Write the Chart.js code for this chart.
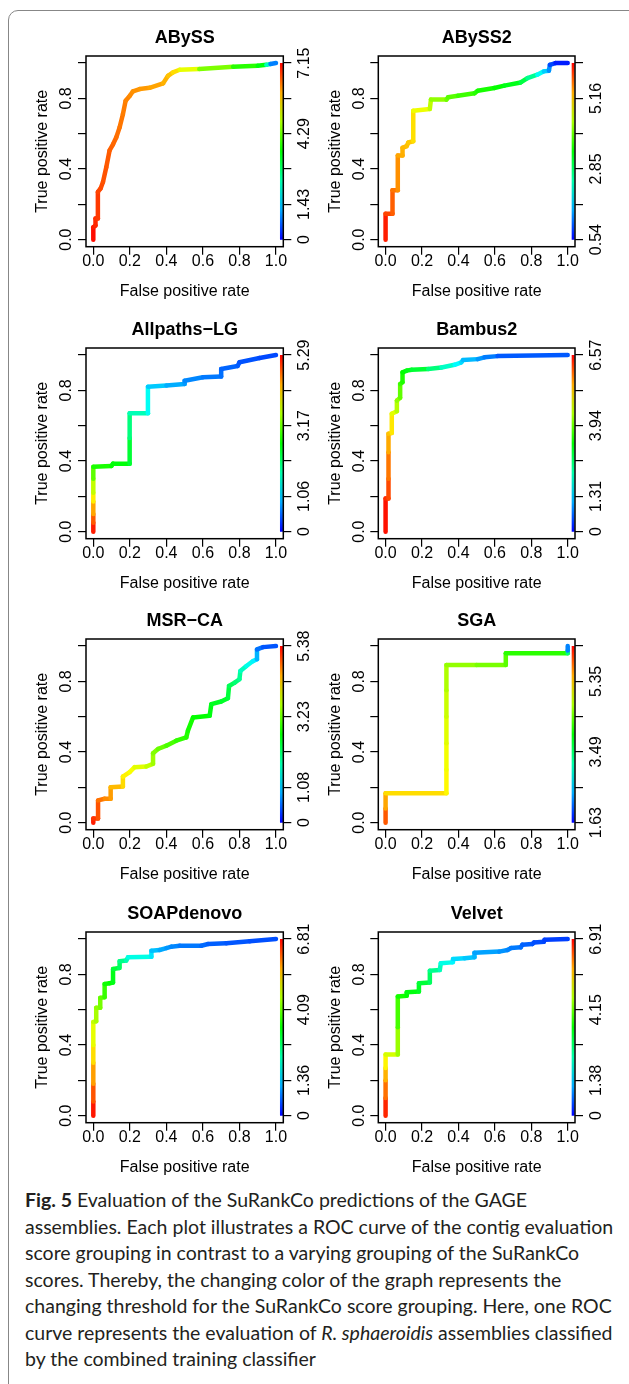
<!DOCTYPE html>
<html>
<head>
<meta charset="utf-8">
<script src="https://cdn.jsdelivr.net/npm/chart.js@4.4.1/dist/chart.umd.min.js"></script>
<style>
  html, body { margin: 0; padding: 0; background: #fff; }
  body { position: relative; width: 629px; height: 1384px; overflow: hidden; }
  .frame { position: absolute; left: 8px; top: 10px; width: 700px; height: 1500px;
           border: 1.5px solid #878787; border-radius: 10px; }
  .panel { position: absolute; width: 314px; height: 292px; }
  .caption { position: absolute; left: 25px; top: 1187px; font-family: Lato, 'Open Sans', sans-serif;
             font-size: 19.5px; line-height: 26.5px; color: #231f20; white-space: nowrap; }
</style>
</head>
<body>
<div class="frame"></div>
<canvas id="roc0" class="panel" width="314" height="292" style="left:0;top:10px"></canvas>
<canvas id="roc1" class="panel" width="314" height="292" style="left:315px;top:10px"></canvas>
<canvas id="roc2" class="panel" width="314" height="292" style="left:0;top:302px"></canvas>
<canvas id="roc3" class="panel" width="314" height="292" style="left:315px;top:302px"></canvas>
<canvas id="roc4" class="panel" width="314" height="292" style="left:0;top:593px"></canvas>
<canvas id="roc5" class="panel" width="314" height="292" style="left:315px;top:593px"></canvas>
<canvas id="roc6" class="panel" width="314" height="292" style="left:0;top:886px"></canvas>
<canvas id="roc7" class="panel" width="314" height="292" style="left:315px;top:886px"></canvas>
<div class="caption">
  <div><b>Fig. 5</b> Evaluation of the SuRankCo predictions of the GAGE</div>
  <div>assemblies. Each plot illustrates a ROC curve of the contig evaluation</div>
  <div>score grouping in contrast to a varying grouping of the SuRankCo</div>
  <div>scores. Thereby, the changing color of the graph represents the</div>
  <div>changing threshold for the SuRankCo score grouping. Here, one ROC</div>
  <div>curve represents the evaluation of <i>R. sphaeroidis</i> assemblies classified</div>
  <div>by the combined training classifier</div>
</div>
<script>
/* GAGE ROC panels: curve colour follows the SuRankCo score threshold,
 * bar at the right edge is the rainbow key for that score range. */

const panelNames = ['ABySS', 'ABySS2', 'Allpaths\u2212LG', 'Bambus2', 'MSR\u2212CA', 'SGA', 'SOAPdenovo', 'Velvet'];

// ABySS
const abyssFpr = [0, 0, 0.012, 0.012, 0.025, 0.025, 0.04, 0.053, 0.071, 0.089, 0.108, 0.126, 0.144, 0.162, 0.177, 0.2, 0.217, 0.254, 0.308, 0.382, 0.409, 0.436, 0.473, 0.58, 0.765, 0.9, 0.947, 0.97, 1];
const abyssTpr = [0, 0.07, 0.08, 0.12, 0.12, 0.27, 0.29, 0.326, 0.41, 0.505, 0.54, 0.58, 0.636, 0.71, 0.787, 0.815, 0.84, 0.853, 0.86, 0.885, 0.928, 0.947, 0.962, 0.966, 0.979, 0.985, 0.99, 0.995, 1];
const abyssScore = [7.15, 7.0, 6.9, 6.85, 6.8, 6.7, 6.65, 6.6, 6.55, 6.5, 6.45, 6.4, 6.35, 6.3, 6.25, 6.2, 6.15, 6.1, 6.05, 5.95, 5.85, 5.7, 5.5, 4.9, 4.0, 3.7, 3.3, 1.2, 0.6];

// ABySS2
const abyss2Fpr = [0, 0, 0.038, 0.038, 0.067, 0.067, 0.093, 0.093, 0.116, 0.125, 0.152, 0.152, 0.243, 0.249, 0.334, 0.343, 0.397, 0.488, 0.506, 0.597, 0.652, 0.742, 0.779, 0.833, 0.869, 0.897, 0.902, 0.933, 1];
const abyss2Tpr = [0, 0.147, 0.147, 0.279, 0.279, 0.476, 0.476, 0.52, 0.53, 0.55, 0.557, 0.73, 0.74, 0.793, 0.793, 0.806, 0.815, 0.829, 0.843, 0.859, 0.872, 0.89, 0.915, 0.934, 0.953, 0.957, 0.99, 1, 1];
const abyss2Score = [6.3, 6.0, 5.85, 5.7, 5.6, 5.4, 5.35, 5.3, 5.25, 5.2, 5.15, 4.95, 4.6, 4.4, 4.1, 4.0, 3.85, 3.7, 3.6, 3.5, 3.4, 3.2, 2.9, 2.3, 1.8, 1.6, 1.1, 0.8, 0.6];

// Allpaths-LG
const allpathsFpr = [0, 0, 0, 0, 0, 0, 0, 0.099, 0.108, 0.199, 0.199, 0.199, 0.299, 0.299, 0.4, 0.5, 0.5, 0.6, 0.7, 0.7, 0.79, 0.8, 0.91, 1];
const allpathsTpr = [0, 0.05, 0.1, 0.17, 0.22, 0.3, 0.367, 0.372, 0.385, 0.385, 0.53, 0.671, 0.671, 0.821, 0.827, 0.836, 0.855, 0.874, 0.878, 0.921, 0.938, 0.959, 0.983, 1];
const allpathsScore = [5.29, 5.0, 4.65, 4.2, 3.9, 3.4, 2.85, 2.7, 2.65, 2.55, 2.2, 1.8, 1.6, 1.15, 0.95, 0.85, 0.75, 0.65, 0.6, 0.55, 0.5, 0.45, 0.4, 0.35];

// Bambus2
const bambusFpr = [0, 0, 0.016, 0.016, 0.016, 0.016, 0.034, 0.034, 0.062, 0.062, 0.08, 0.08, 0.093, 0.093, 0.116, 0.143, 0.234, 0.307, 0.379, 0.416, 0.425, 0.506, 0.543, 0.615, 1];
const bambusTpr = [0, 0.188, 0.188, 0.3, 0.45, 0.555, 0.558, 0.667, 0.682, 0.742, 0.758, 0.836, 0.846, 0.902, 0.912, 0.917, 0.921, 0.93, 0.945, 0.959, 0.972, 0.977, 0.987, 0.994, 1];
const bambusScore = [6.57, 6.35, 6.2, 6.0, 5.6, 5.35, 5.25, 4.9, 4.6, 4.3, 4.1, 3.7, 3.6, 3.35, 3.2, 3.1, 2.8, 2.2, 1.8, 1.45, 1.35, 1.05, 0.9, 0.7, 0.45];

// MSR-CA
const msrFpr = [0, 0, 0.026, 0.026, 0.062, 0.095, 0.095, 0.162, 0.162, 0.199, 0.226, 0.29, 0.327, 0.327, 0.354, 0.4, 0.454, 0.509, 0.518, 0.546, 0.637, 0.646, 0.7, 0.737, 0.743, 0.774, 0.8, 0.805, 0.838, 0.874, 0.896, 0.896, 0.929, 1];
const msrTpr = [0, 0.023, 0.023, 0.126, 0.135, 0.135, 0.2, 0.205, 0.261, 0.286, 0.314, 0.318, 0.333, 0.393, 0.417, 0.436, 0.464, 0.483, 0.521, 0.596, 0.605, 0.671, 0.686, 0.705, 0.774, 0.793, 0.812, 0.859, 0.887, 0.915, 0.925, 0.981, 0.994, 1];
const msrScore = [5.3, 5.15, 5.05, 4.85, 4.7, 4.6, 4.5, 4.3, 4.15, 4.05, 3.95, 3.8, 3.6, 3.45, 3.3, 3.15, 3.0, 2.9, 2.85, 2.75, 2.65, 2.55, 2.5, 2.45, 2.3, 2.15, 2.0, 1.8, 1.55, 1.35, 1.2, 0.7, 0.5, 0.4];

// SGA
const sgaFpr = [0, 0, 0, 0.334, 0.334, 0.334, 0.334, 0.334, 0.334, 0.5, 0.66, 0.66, 1, 1, 1];
const sgaTpr = [0, 0.08, 0.167, 0.167, 0.3, 0.45, 0.6, 0.75, 0.893, 0.893, 0.893, 0.959, 0.959, 0.975, 1];
const sgaScore = [6.95, 6.5, 6.1, 5.9, 5.8, 5.7, 5.6, 5.45, 5.3, 5.15, 5.0, 4.8, 4.5, 3.0, 1.7];

// SOAPdenovo
const soapFpr = [0, 0, 0, 0, 0, 0, 0.016, 0.016, 0.038, 0.038, 0.062, 0.062, 0.089, 0.108, 0.108, 0.141, 0.144, 0.18, 0.19, 0.318, 0.318, 0.363, 0.4, 0.427, 0.473, 0.591, 0.628, 0.728, 0.856, 1];
const soapTpr = [0, 0.08, 0.18, 0.3, 0.4, 0.53, 0.534, 0.611, 0.611, 0.667, 0.671, 0.746, 0.75, 0.754, 0.831, 0.836, 0.874, 0.878, 0.897, 0.9, 0.934, 0.938, 0.949, 0.957, 0.962, 0.962, 0.972, 0.976, 0.987, 1];
const soapScore = [6.81, 6.5, 6.0, 5.5, 5.15, 4.75, 4.65, 4.4, 4.3, 4.1, 4.0, 3.55, 3.45, 3.4, 3.1, 2.95, 2.6, 2.4, 2.05, 1.7, 1.35, 1.2, 1.05, 0.95, 0.85, 0.75, 0.65, 0.6, 0.55, 0.5];

// Velvet
const velvetFpr = [0, 0, 0, 0, 0, 0.067, 0.067, 0.067, 0.116, 0.116, 0.183, 0.183, 0.243, 0.243, 0.298, 0.303, 0.365, 0.37, 0.434, 0.488, 0.488, 0.624, 0.67, 0.688, 0.742, 0.751, 0.806, 0.815, 0.869, 0.873, 1];
const velvetTpr = [0, 0.1, 0.2, 0.27, 0.346, 0.346, 0.5, 0.675, 0.679, 0.699, 0.703, 0.75, 0.754, 0.821, 0.825, 0.863, 0.868, 0.887, 0.891, 0.897, 0.923, 0.929, 0.938, 0.949, 0.953, 0.968, 0.972, 0.981, 0.985, 0.996, 1];
const velvetScore = [6.91, 6.4, 5.9, 5.5, 5.0, 4.8, 4.2, 3.65, 3.5, 3.4, 3.3, 3.15, 3.0, 2.6, 2.35, 2.0, 1.8, 1.55, 1.4, 1.3, 1.15, 1.05, 0.95, 0.85, 0.8, 0.7, 0.6, 0.55, 0.5, 0.45, 0.4];

const curves = [
  [abyssFpr, abyssTpr, abyssScore],
  [abyss2Fpr, abyss2Tpr, abyss2Score],
  [allpathsFpr, allpathsTpr, allpathsScore],
  [bambusFpr, bambusTpr, bambusScore],
  [msrFpr, msrTpr, msrScore],
  [sgaFpr, sgaTpr, sgaScore],
  [soapFpr, soapTpr, soapScore],
  [velvetFpr, velvetTpr, velvetScore],
];

// score range covered by the colour key of each panel
const scoreMin = [0, 0.54, 0, 0, 0, 1.63, 0, 0];
const scoreMax = [7.15, 6.315, 5.29, 6.57, 5.38, 7.21, 6.81, 6.91];

const rateTicks = [0, 0.2, 0.4, 0.6, 0.8, 1];
const xTickLabels = ['0.0', '0.2', '0.4', '0.6', '0.8', '1.0'];
const yTickLabels = ['0.0', '', '0.4', '', '0.8', ''];
const scoreTickLabels = [
  ['0', '1.43', '', '4.29', '', '7.15'],
  ['0.54', '', '2.85', '', '5.16', ''],
  ['0', '1.06', '', '3.17', '', '5.29'],
  ['0', '1.31', '', '3.94', '', '6.57'],
  ['0', '1.08', '', '3.23', '', '5.38'],
  ['1.63', '', '3.49', '', '5.35', ''],
  ['0', '1.36', '', '4.09', '', '6.81'],
  ['0', '1.38', '', '4.15', '', '6.91'],
];
const keyX = 1.03;

Chart.defaults.font.family = "'Liberation Sans', Arial, Helvetica, sans-serif";
Chart.defaults.color = '#000';

// rainbow as in R: high score red, low score blue
const rainbow = (t) => 'hsl(' + ((1 - Math.min(1, Math.max(0, t))) * 240).toFixed(1) + ', 100%, 50%)';

const plotBox = {
  id: 'plotBox',
  afterDatasetsDraw(chart) {
    const { ctx, chartArea: a } = chart;
    ctx.save();
    ctx.strokeStyle = '#000';
    ctx.lineWidth = 1.5;
    ctx.strokeRect(a.left, a.top, a.width, a.height);
    ctx.restore();
  },
};

const fixedTicks = (scale) => { scale.ticks = rateTicks.map((v) => ({ value: v })); };
const tickGrid = { drawOnChartArea: false, color: '#000', lineWidth: 1.2, tickLength: 8 };

function makePanel(i) {
  const [fpr, tpr, score] = curves[i];
  const lo = scoreMin[i], hi = scoreMax[i];
  const toT = (v) => (v - lo) / (hi - lo);
  const rightCol = i % 2 === 1;

  return new Chart(document.getElementById('roc' + i), {
    type: 'line',
    data: {
      datasets: [
        {
          data: fpr.map((x, k) => ({ x, y: tpr[k] })),
          borderWidth: 4.5,
          borderCapStyle: 'round',
          borderJoinStyle: 'round',
          borderColor: rainbow(toT(score[0])),
          pointRadius: 0,
          tension: 0,
          segment: {
            borderColor: (c) => rainbow(toT((score[c.p0DataIndex] + score[c.p1DataIndex]) / 2)),
          },
        },
        {
          data: [{ x: keyX, y: 0 }, { x: keyX, y: 1 }],
          borderWidth: 3,
          pointRadius: 0,
          borderColor: (c) => {
            const ys = c.chart.scales.y;
            if (!ys || ys.top === undefined) return '#00f';
            const g = c.chart.ctx.createLinearGradient(0, ys.getPixelForValue(0), 0, ys.getPixelForValue(1));
            for (let k = 0; k <= 6; k++) g.addColorStop(k / 6, rainbow(k / 6));
            return g;
          },
        },
      ],
    },
    options: {
      responsive: false,
      animation: false,
      layout: { padding: { left: rightCol ? 10.7 : 33.4, right: rightCol ? 23.3 : 0, top: 0, bottom: 0.7 } },
      scales: {
        x: {
          type: 'linear', min: -0.04, max: 1.04,
          afterBuildTicks: fixedTicks,
          afterFit: (s) => { s.height = 54.6; },
          grid: tickGrid,
          border: { display: false },
          ticks: { font: { size: 16 }, padding: -3, autoSkip: false, maxRotation: 0, callback: (v, k) => xTickLabels[k] },
          title: { display: true, text: 'False positive rate', font: { size: 16 }, padding: 0 },
        },
        y: {
          type: 'linear', min: -0.04, max: 1.04,
          afterBuildTicks: fixedTicks,
          afterFit: (s) => { s.width = 52.6; },
          grid: tickGrid,
          border: { display: false },
          ticks: { font: { size: 16 }, padding: 0, minRotation: 90, maxRotation: 90, crossAlign: 'center', autoSkip: false, callback: (v, k) => yTickLabels[k] },
          title: { display: true, text: 'True positive rate', font: { size: 16 }, padding: 0 },
        },
        y2: {
          type: 'linear', position: 'right', min: -0.04, max: 1.04,
          afterBuildTicks: fixedTicks,
          afterFit: (s) => { s.width = 30.7; },
          grid: tickGrid,
          border: { display: false },
          ticks: { font: { size: 16 }, padding: -2, minRotation: 90, maxRotation: 90, crossAlign: 'center', autoSkip: false, callback: (v, k) => scoreTickLabels[i][k] },
        },
      },
      plugins: {
        legend: { display: false },
        tooltip: { enabled: false },
        title: {
          display: true, text: panelNames[i], fullSize: false, color: '#000',
          font: { size: 18, weight: 'bold' },
          padding: { top: 17.2, bottom: 7.2 },
        },
      },
    },
    plugins: [plotBox],
  });
}

panelNames.forEach((_, i) => makePanel(i));
</script>
</body>
</html>
